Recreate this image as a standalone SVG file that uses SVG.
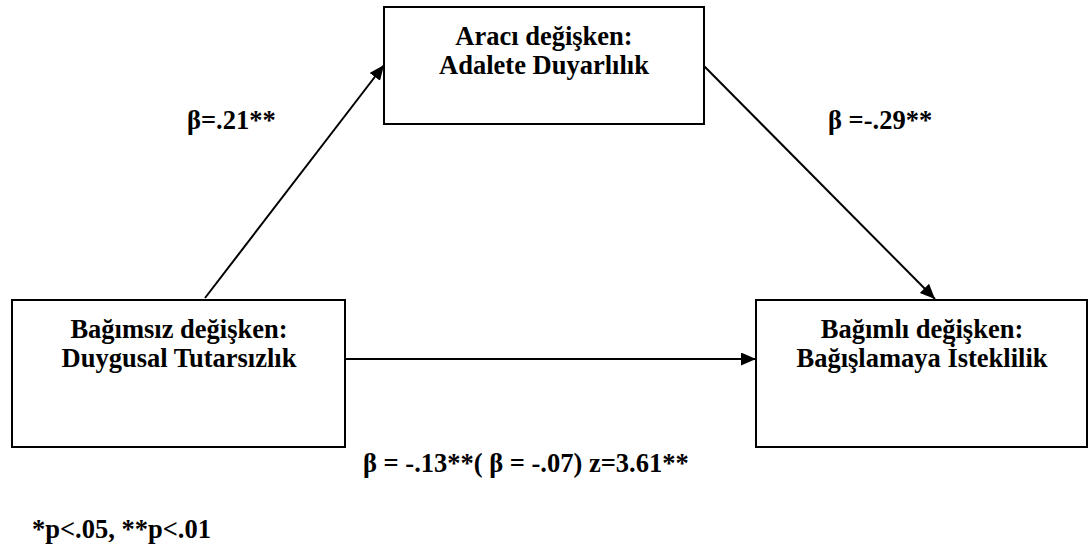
<svg xmlns="http://www.w3.org/2000/svg" width="1089" height="551" viewBox="0 0 1089 551">
<style>
.box{fill:#fff;stroke:#000;stroke-width:2}
.t{font-family:'Liberation Serif','Times New Roman',Times,Tinos,'DejaVu Serif',serif;font-weight:700;font-size:26.5px;fill:#000}
.c{text-anchor:middle}
.ln{stroke:#000;stroke-width:2;fill:none;marker-end:url(#ah)}
</style>
<defs>
<marker id="ah" markerUnits="userSpaceOnUse" markerWidth="16" markerHeight="14" refX="15" refY="6.5" orient="auto">
<path d="M0,0 L15,6.5 L0,13 z" fill="#000"/>
</marker>
</defs>
<rect width="1089" height="551" fill="#fff"/>
<g id="connectors">
<line class="ln" x1="205" y1="298" x2="384" y2="65"/>
<line class="ln" x1="704" y1="66" x2="935" y2="299"/>
<line class="ln" x1="345" y1="359" x2="756" y2="359"/>
</g>
<g id="mediator">
<rect class="box" x="384" y="7" width="320" height="117"/>
<text class="t c" x="544" y="45">Aracı değişken:</text>
<text class="t c" x="544" y="74">Adalete Duyarlılık</text>
</g>
<g id="independent">
<rect class="box" x="12" y="300" width="333" height="147"/>
<text class="t c" x="179" y="338">Bağımsız değişken:</text>
<text class="t c" x="179" y="367">Duygusal Tutarsızlık</text>
</g>
<g id="dependent">
<rect class="box" x="756" y="300" width="331" height="147"/>
<text class="t c" x="922" y="338">Bağımlı değişken:</text>
<text class="t c" x="922" y="367">Bağışlamaya İsteklilik</text>
</g>
<g id="labels">
<text class="t" x="187" y="129">β=.21**</text>
<text class="t" x="828" y="129">β =-.29**</text>
<text class="t" x="363" y="472">β = -.13**( β = -.07) z=3.61**</text>
<text class="t" x="32" y="538">*p&lt;.05, **p&lt;.01</text>
</g>
</svg>
